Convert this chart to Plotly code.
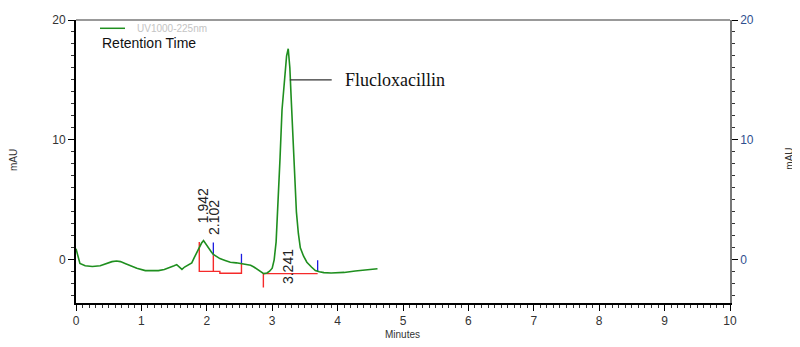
import plotly.graph_objects as go

# Chromatogram trace (time in minutes, absorbance in mAU)
time_min = [0.00, 0.03, 0.06, 0.14, 0.25, 0.37, 0.47, 0.55, 0.62, 0.68, 0.75, 0.85, 0.93,
            1.06, 1.15, 1.26, 1.35, 1.44, 1.50, 1.54, 1.58, 1.62, 1.66, 1.70, 1.77, 1.81,
            1.85, 1.89, 1.92, 1.95, 1.99, 2.03, 2.07, 2.10, 2.15, 2.20, 2.28, 2.36, 2.45,
            2.53, 2.60, 2.67, 2.72, 2.77, 2.82, 2.87, 2.92, 2.96, 3.00, 3.03, 3.06, 3.09,
            3.12, 3.15, 3.19, 3.22, 3.245, 3.27, 3.29, 3.31, 3.34, 3.37, 3.40, 3.43, 3.48,
            3.53, 3.60, 3.66, 3.72, 3.79, 3.90, 4.04, 4.10, 4.27, 4.47, 4.61]
signal_mau = [0.93, 0.30, -0.30, -0.50, -0.55, -0.50, -0.30, -0.15, -0.10, -0.15, -0.30, -0.55, -0.70,
              -0.90, -0.92, -0.90, -0.80, -0.65, -0.50, -0.40, -0.60, -0.80, -0.60, -0.45, -0.25, 0.20,
              0.65, 1.20, 1.40, 1.60, 1.25, 0.93, 0.65, 0.45, 0.25, 0.10, -0.05, -0.20, -0.25,
              -0.30, -0.35, -0.45, -0.60, -0.80, -1.00, -1.15, -1.10, -0.95, -0.70, 0.00, 1.50, 4.50,
              8.50, 12.50, 15.50, 17.00, 17.60, 16.00, 13.50, 10.80, 7.00, 4.00, 2.20, 1.00, 0.30,
              -0.20, -0.60, -0.90, -1.00, -1.07, -1.10, -1.10, -1.05, -0.93, -0.80, -0.75]

# Peak labels
peak_times = [1.942, 2.102, 3.241]
peak_labels = ["1.942", "2.102", "3.241"]
peak_label_base = [2.85, 1.9, -2.15]

# Integration baselines (red) and peak end markers (blue)
baseline_x = [[1.885, 1.885, 2.10], [2.10, 2.10, 2.20, 2.20, 2.53, 2.53], [2.865, 2.865, 3.695]]
baseline_y = [[1.48, -0.96, -0.96], [0.38, -0.96, -0.96, -1.12, -1.12, -0.32], [-2.3, -1.15, -1.15]]
marker_x = [[2.10, 2.10], [2.53, 2.53], [3.695, 3.695]]
marker_y = [[0.38, 1.45], [-0.32, 0.5], [-0.96, -0.04]]

compound_name = "Flucloxacillin"
compound_pointer_x = [3.27, 3.91]
compound_pointer_y = [15.0, 15.0]

fig = go.Figure()

for bx, by in zip(baseline_x, baseline_y):
    fig.add_trace(go.Scatter(x=bx, y=by, mode="lines", line=dict(color="#f52a2a", width=1.4),
                             showlegend=False, hoverinfo="skip"))
for mx, my in zip(marker_x, marker_y):
    fig.add_trace(go.Scatter(x=mx, y=my, mode="lines", line=dict(color="#1c1ce0", width=1.3),
                             showlegend=False, hoverinfo="skip"))

fig.add_trace(go.Scatter(x=time_min, y=signal_mau, mode="lines",
                         line=dict(color="#1f8f1f", width=1.6), showlegend=False))

fig.add_trace(go.Scatter(x=compound_pointer_x, y=compound_pointer_y, mode="lines",
                         line=dict(color="#333333", width=1.2), showlegend=False, hoverinfo="skip"))

# dummy trace to activate the right axis
fig.add_trace(go.Scatter(x=[None], y=[None], yaxis="y2", showlegend=False))

for t, lab, yb in zip(peak_times, peak_labels, peak_label_base):
    fig.add_annotation(x=t, y=yb, text=lab, textangle=-90, showarrow=False,
                       xanchor="center", yanchor="bottom",
                       font=dict(family="Liberation Sans, Arial", size=14, color="#222222"))

fig.add_annotation(x=compound_pointer_x[1] + 0.18, y=compound_pointer_y[0], text=compound_name,
                   showarrow=False, xanchor="left", yanchor="middle",
                   font=dict(family="Liberation Serif, Times New Roman", size=18, color="#111111"))

# legend-like header
fig.add_shape(type="line", xref="paper", yref="paper", x0=0.0367, x1=0.0749, y0=0.9707, y1=0.9707,
              line=dict(color="#1f8f1f", width=1.5))
fig.add_annotation(xref="paper", yref="paper", x=0.0902, y=0.9707, text="UV1000-225nm",
                   showarrow=False, xanchor="left", yanchor="middle",
                   font=dict(family="Liberation Sans, Arial", size=10, color="#c4c4c4"))
fig.add_annotation(xref="paper", yref="paper", x=0.0367, y=0.9198, text="Retention Time",
                   showarrow=False, xanchor="left", yanchor="middle",
                   font=dict(family="Liberation Sans, Arial", size=14, color="#111111"))

# top border
fig.add_shape(type="line", xref="paper", yref="paper", x0=0, x1=1, y0=1, y1=1,
              line=dict(color="#777777", width=1.5))

# axis titles
fig.add_annotation(xref="paper", yref="paper", x=0.4985, y=-0.113, text="Minutes", showarrow=False,
                   xanchor="center", yanchor="middle",
                   font=dict(family="Liberation Sans, Arial", size=10, color="#333333"))
fig.add_annotation(xref="paper", yref="paper", x=-0.0963, y=0.505, text="mAU", textangle=-90,
                   showarrow=False, xanchor="center", yanchor="middle",
                   font=dict(family="Liberation Sans, Arial", size=10, color="#333333"))
fig.add_annotation(xref="paper", yref="paper", x=1.0917, y=0.51, text="mAU", textangle=-90,
                   showarrow=False, xanchor="center", yanchor="middle",
                   font=dict(family="Liberation Sans, Arial", size=10, color="#333333"))

tickfont = dict(family="Liberation Sans, Arial", size=12, color="#333333")
fig.update_layout(
    width=800, height=347,
    margin=dict(l=68, r=78, t=12, b=52, autoexpand=False),
    plot_bgcolor="white", paper_bgcolor="white",
    xaxis=dict(range=[0, 10], dtick=1, tick0=0, showgrid=False, zeroline=False, automargin=False,
               showline=True, linecolor="black", linewidth=2, ticks="outside", ticklen=6,
               tickcolor="black", tickfont=tickfont,
               minor=dict(dtick=0.1, ticks="outside", ticklen=3, tickcolor="#333333")),
    yaxis=dict(range=[-3.6, 20], dtick=10, tick0=0, showgrid=False, zeroline=False, automargin=False,
               showline=True, linecolor="black", linewidth=2, ticks="outside", ticklen=6,
               tickcolor="black", tickfont=tickfont,
               minor=dict(dtick=1, ticks="outside", ticklen=3, tickcolor="#333333")),
    yaxis2=dict(range=[-3.6, 20], dtick=10, tick0=0, overlaying="y", side="right", automargin=False,
                showgrid=False, zeroline=False, showline=True, linecolor="#777777", linewidth=1.5,
                ticks="outside", ticklen=6, tickcolor="black",
                tickfont=dict(family="Liberation Sans, Arial", size=12, color="#2f4f8f"),
                minor=dict(dtick=1, ticks="outside", ticklen=3, tickcolor="#333333")),
)

fig.write_html("out.html")
